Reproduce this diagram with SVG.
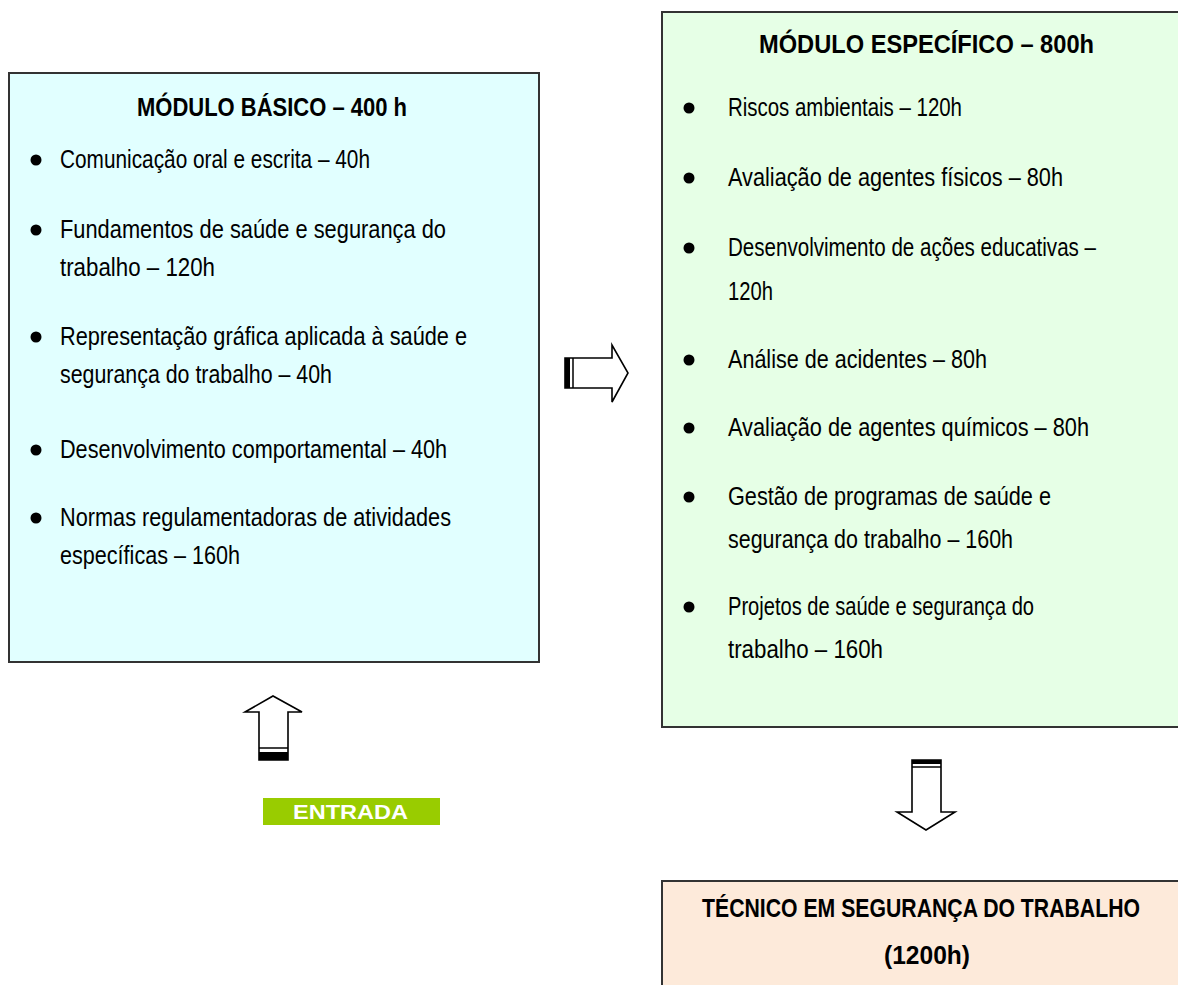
<svg xmlns="http://www.w3.org/2000/svg" width="1178" height="985" viewBox="0 0 1178 985">
<style>
.box{stroke:#333;stroke-width:2}
.edge{fill:none;stroke:#333;stroke-width:2}
.t{font-family:"Liberation Sans",Arial,sans-serif;font-size:25px;fill:#000}
.h{font-family:"Liberation Sans",Arial,sans-serif;font-size:26.5px;font-weight:bold;fill:#000}
.arr{fill:#fff;stroke:#000;stroke-width:1.6;stroke-linejoin:miter}
.bar{fill:#000}
.thin{stroke:#000;stroke-width:1.5}
</style>
<rect width="1178" height="985" fill="#fff"/>
<g id="basico">
<rect class="box" x="9" y="73" width="530" height="589" fill="#E1FFFF"/>
<text class="h" x="137" y="116" textLength="270" lengthAdjust="spacingAndGlyphs">MÓDULO BÁSICO – 400 h</text>
<circle cx="36" cy="160" r="5.5"/>
<text class="t" x="60" y="168" textLength="310" lengthAdjust="spacingAndGlyphs">Comunicação oral e escrita – 40h</text>
<circle cx="36" cy="230" r="5.5"/>
<text class="t" x="60" y="238" textLength="386" lengthAdjust="spacingAndGlyphs">Fundamentos de saúde e segurança do</text>
<text class="t" x="60" y="276" textLength="155" lengthAdjust="spacingAndGlyphs">trabalho – 120h</text>
<circle cx="36" cy="337" r="5.5"/>
<text class="t" x="60" y="345" textLength="407" lengthAdjust="spacingAndGlyphs">Representação gráfica aplicada à saúde e</text>
<text class="t" x="60" y="383" textLength="272" lengthAdjust="spacingAndGlyphs">segurança do trabalho – 40h</text>
<circle cx="36" cy="450" r="5.5"/>
<text class="t" x="60" y="458" textLength="387" lengthAdjust="spacingAndGlyphs">Desenvolvimento comportamental – 40h</text>
<circle cx="36" cy="518" r="5.5"/>
<text class="t" x="60" y="526" textLength="391" lengthAdjust="spacingAndGlyphs">Normas regulamentadoras de atividades</text>
<text class="t" x="60" y="564" textLength="180" lengthAdjust="spacingAndGlyphs">específicas – 160h</text>
</g>
<g id="especifico">
<rect x="662" y="12" width="516" height="715" fill="#E6FFE6"/>
<path class="edge" d="M1178,12 H662 V727 H1178"/>
<text class="h" x="759" y="53" textLength="335" lengthAdjust="spacingAndGlyphs">MÓDULO ESPECÍFICO – 800h</text>
<circle cx="689" cy="108" r="5.5"/>
<text class="t" x="728" y="116" textLength="234" lengthAdjust="spacingAndGlyphs">Riscos ambientais – 120h</text>
<circle cx="689" cy="178" r="5.5"/>
<text class="t" x="728" y="186" textLength="335" lengthAdjust="spacingAndGlyphs">Avaliação de agentes físicos – 80h</text>
<circle cx="689" cy="248" r="5.5"/>
<text class="t" x="728" y="256" textLength="368" lengthAdjust="spacingAndGlyphs">Desenvolvimento de ações educativas –</text>
<text class="t" x="728" y="300" textLength="45" lengthAdjust="spacingAndGlyphs">120h</text>
<circle cx="689" cy="360" r="5.5"/>
<text class="t" x="728" y="368" textLength="259" lengthAdjust="spacingAndGlyphs">Análise de acidentes – 80h</text>
<circle cx="689" cy="428" r="5.5"/>
<text class="t" x="728" y="436" textLength="361" lengthAdjust="spacingAndGlyphs">Avaliação de agentes químicos – 80h</text>
<circle cx="689" cy="497" r="5.5"/>
<text class="t" x="728" y="505" textLength="323" lengthAdjust="spacingAndGlyphs">Gestão de programas de saúde e</text>
<text class="t" x="728" y="548" textLength="285" lengthAdjust="spacingAndGlyphs">segurança do trabalho – 160h</text>
<circle cx="689" cy="607" r="5.5"/>
<text class="t" x="728" y="615" textLength="306" lengthAdjust="spacingAndGlyphs">Projetos de saúde e segurança do</text>
<text class="t" x="728" y="658" textLength="155" lengthAdjust="spacingAndGlyphs">trabalho – 160h</text>
</g>
<g id="tecnico">
<rect x="662" y="881" width="516" height="104" fill="#FDEADA"/>
<path class="edge" d="M662,985 V881 H1178"/>
<text class="h" transform="translate(702,917) scale(0.8,1)" x="0" y="0" textLength="547.5" lengthAdjust="spacingAndGlyphs">TÉCNICO EM SEGURANÇA DO TRABALHO</text>
<text class="h" x="884" y="964" textLength="86" lengthAdjust="spacingAndGlyphs">(1200h)</text>
</g>
<g id="entrada">
<rect x="263" y="798" width="177" height="27" fill="#99CC00"/>
<text x="293" y="819" font-family="Liberation Sans,Arial,sans-serif" font-size="21" font-weight="bold" fill="#fff" textLength="115" lengthAdjust="spacingAndGlyphs">ENTRADA</text>
</g>
<g id="connectors">
<path class="arr" d="M565,358 L612,358 L612,345 L628,373 L612,402 L612,388 L565,388 Z"/>
<rect class="bar" x="565" y="358" width="5" height="30"/>
<line class="thin" x1="573" y1="358" x2="573" y2="388"/>
<path class="arr" d="M259,760 L259,712 L245,712 L273,696 L302,712 L288,712 L288,760 Z"/>
<rect class="bar" x="259" y="752" width="29" height="8"/>
<line class="thin" x1="259" y1="748" x2="288" y2="748"/>
<path class="arr" d="M912,760 L941,760 L941,812 L955,812 L926,830 L897,812 L912,812 Z"/>
<rect class="bar" x="912" y="760" width="29" height="4"/>
<line class="thin" x1="912" y1="767" x2="941" y2="767"/>
</g>
</svg>
